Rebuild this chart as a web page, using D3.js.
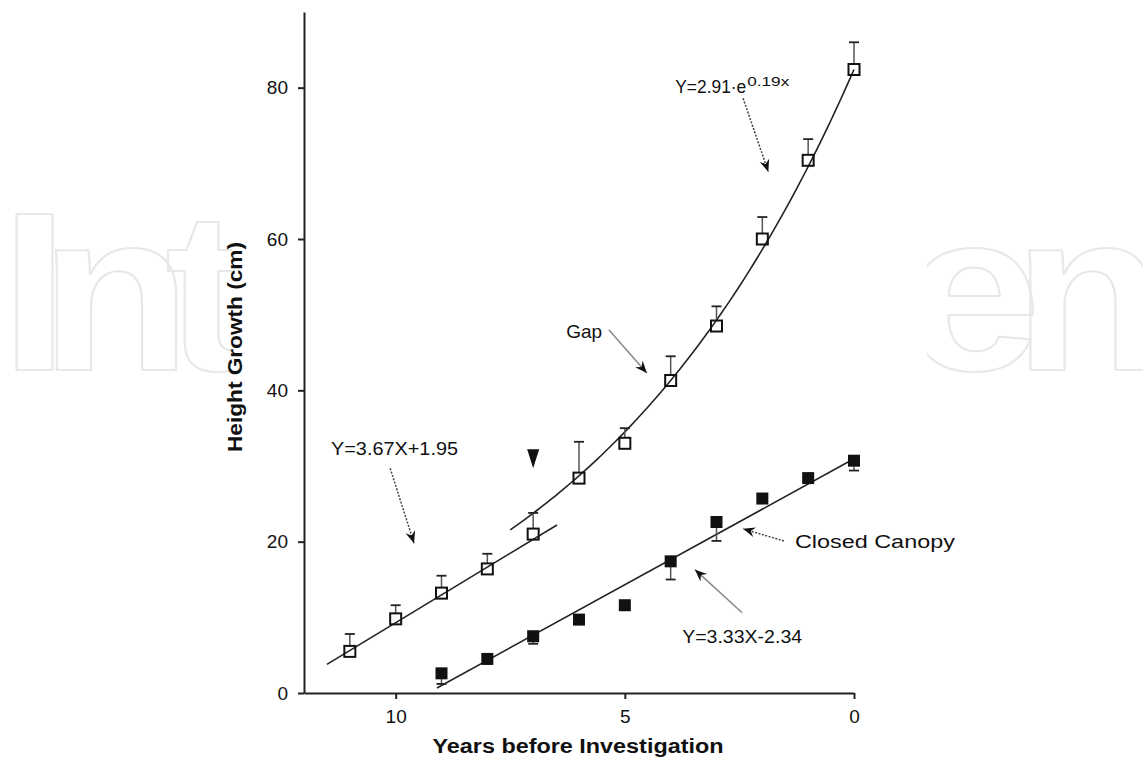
<!DOCTYPE html>
<html>
<head>
<meta charset="utf-8">
<script src="https://cdn.jsdelivr.net/npm/d3@7"></script>
<style>
  body { margin: 0; background: #fff; }
  text { font-family: "Liberation Sans", Arial, sans-serif; }
</style>
</head>
<body>
<svg id="chart" width="1143" height="759"></svg>
<script>
// ---- data ----
const yearsGap = [11, 10, 9, 8, 7, 6, 5, 4, 3, 2, 1, 0];
const gapHeight = [5.5, 9.8, 13.2, 16.4, 21.0, 28.4, 33.0, 41.3, 48.5, 60.0, 70.4, 82.4];
const gapErr = [2.3, 1.8, 2.3, 2.0, 2.8, 4.8, 2.0, 3.2, 2.6, 2.9, 2.8, 3.6];

const yearsClosed = [9, 8, 7, 6, 5, 4, 3, 2, 1, 0];
const closedHeight = [2.6, 4.5, 7.5, 9.7, 11.6, 17.4, 22.6, 25.7, 28.4, 30.7];
const closedErr = [1.4, 0, 1.0, 0.5, 0, 2.4, 2.5, 0, 0, 1.3];

const xTicks = [10, 5, 0];
const yTicks = [0, 20, 40, 60, 80];

// fitted curves (X counted forward in years)
const gapLinear = { slope: 3.67, intercept: 1.95, origin: 12, from: 11.5, to: 6.48 };
const closedLinear = { slope: 3.33, intercept: -2.34, origin: 10, from: 9.1, to: -0.05 };
const gapExp = { offset: -5, amp: 87.4, rate: 0.1588, from: 7.5, to: 0 };

// ---- layout ----
const svg = d3.select("#chart");
const W = 1143, H = 759;

const x = d3.scaleLinear().domain([12, 0]).range([304, 854]);
const y = d3.scaleLinear().domain([0, 90]).range([693, 12]);

// faint publisher watermark behind the plot (only its ends show past the white panel)
const wm = svg.append("g").attr("fill", "none").attr("stroke", "#e8e8e8")
  .attr("stroke-width", 2).attr("stroke-linejoin", "round")
  .style("font-family", "'Open Sans', sans-serif").style("font-weight", 700)
  .style("font-size", "226px");
wm.append("text").attr("transform", "translate(0,370) scale(1.1,1)")
  .attr("x", "0 36 150").text("Int");
wm.append("text").attr("transform", "translate(903,370) scale(1.1,1)")
  .attr("x", "0 100").attr("letter-spacing", -28).text("en");
svg.append("rect").attr("x", 232).attr("y", 0).attr("width", 927 - 232).attr("height", H).attr("fill", "#fff");

// arrow heads
const defs = svg.append("defs");
defs.append("marker").attr("id", "head")
  .attr("viewBox", "-12 -6 14 12").attr("refX", 0).attr("refY", 0)
  .attr("markerWidth", 14).attr("markerHeight", 12)
  .attr("markerUnits", "userSpaceOnUse").attr("orient", "auto")
  .append("path").attr("d", "M0,0 L-12,-5 L-8,0 L-12,5 Z").attr("fill", "#111");

// ---- axes ----
const yAxis = svg.append("g").attr("transform", `translate(${x(12)},0)`)
  .call(d3.axisLeft(y).tickValues(yTicks).tickSize(6).tickSizeOuter(0).tickPadding(10));
const xAxis = svg.append("g").attr("transform", `translate(0,${y(0)})`)
  .call(d3.axisBottom(x).tickValues(xTicks).tickSize(6).tickSizeOuter(0).tickPadding(11));
[yAxis, xAxis].forEach(g => {
  g.select(".domain").attr("stroke", "#222").attr("stroke-width", 2);
  g.selectAll(".tick line").attr("stroke", "#222").attr("stroke-width", 2);
  g.selectAll(".tick text").attr("fill", "#111").style("font-size", "19px")
    .style("font-family", "'Liberation Sans', Arial, sans-serif");
});

svg.append("text")
  .attr("x", 578).attr("y", 753).attr("text-anchor", "middle")
  .attr("textLength", 291).attr("lengthAdjust", "spacingAndGlyphs")
  .style("font-size", "20px").style("font-weight", "bold").attr("fill", "#111")
  .text("Years before Investigation");

svg.append("text")
  .attr("transform", "translate(242,347) rotate(-90)").attr("text-anchor", "middle")
  .attr("textLength", 210).attr("lengthAdjust", "spacingAndGlyphs")
  .style("font-size", "20px").style("font-weight", "bold").attr("fill", "#111")
  .text("Height Growth (cm)");

// ---- fitted lines ----
const line = d3.line().x(d => x(d[0])).y(d => y(d[1]));
const plot = svg.append("g");

const linPts = f => [f.from, f.to].map(v => [v, f.slope * (f.origin - v) + f.intercept]);
plot.append("path").attr("d", line(linPts(gapLinear)))
  .attr("fill", "none").attr("stroke", "#222").attr("stroke-width", 1.6);
plot.append("path").attr("d", line(linPts(closedLinear)))
  .attr("fill", "none").attr("stroke", "#222").attr("stroke-width", 1.6);

const expPts = d3.range(gapExp.from, gapExp.to - 0.001, -0.1)
  .map(v => [v, gapExp.offset + gapExp.amp * Math.exp(-gapExp.rate * v)]);
plot.append("path").attr("d", line.curve(d3.curveMonotoneX)(expPts))
  .attr("fill", "none").attr("stroke", "#222").attr("stroke-width", 1.6);

// ---- error bars ----
const half = 5.5, cap = 5;
const gapData = yearsGap.map((t, i) => ({ t, v: gapHeight[i], e: gapErr[i] }));
const closedData = yearsClosed.map((t, i) => ({ t, v: closedHeight[i], e: closedErr[i] }));

const eb = plot.append("g");
gapData.forEach(d => {
  const top = y(d.v + d.e), cy = y(d.v);
  if (cy - top <= half) return;
  eb.append("line").attr("x1", x(d.t)).attr("x2", x(d.t)).attr("y1", cy - half).attr("y2", top)
    .attr("stroke", "#555").attr("stroke-width", 1.5);
  eb.append("line").attr("x1", x(d.t) - cap).attr("x2", x(d.t) + cap).attr("y1", top).attr("y2", top)
    .attr("stroke", "#222").attr("stroke-width", 1.8);
});
closedData.forEach(d => {
  const bot = y(d.v - d.e), cy = y(d.v);
  if (bot - cy <= half) return;
  eb.append("line").attr("x1", x(d.t)).attr("x2", x(d.t)).attr("y1", cy + half).attr("y2", bot)
    .attr("stroke", "#555").attr("stroke-width", 1.5);
  eb.append("line").attr("x1", x(d.t) - cap).attr("x2", x(d.t) + cap).attr("y1", bot).attr("y2", bot)
    .attr("stroke", "#222").attr("stroke-width", 1.8);
});

// ---- markers ----
plot.append("g").selectAll("rect").data(gapData).join("rect")
  .attr("x", d => x(d.t) - half).attr("y", d => y(d.v) - half)
  .attr("width", half * 2).attr("height", half * 2)
  .attr("fill", "none").attr("stroke", "#111").attr("stroke-width", 2);

plot.append("g").selectAll("rect").data(closedData).join("rect")
  .attr("x", d => x(d.t) - 6).attr("y", d => y(d.v) - 6)
  .attr("width", 12).attr("height", 12).attr("fill", "#111");

// gap-creation marker
const tri = { t: 7, top: 32.2 };
plot.append("path")
  .attr("d", `M${x(tri.t) - 6},${y(tri.top)} L${x(tri.t) + 6},${y(tri.top)} L${x(tri.t)},${y(tri.top) + 19} Z`)
  .attr("fill", "#111");

// ---- annotations (positions in data units) ----
const notes = [
  { text: "Gap", t: 6.28, v: 46.9, size: 19, len: null },
  { text: "Y=3.67X+1.95", t: 11.41, v: 31.45, size: 18, len: 127 },
  { text: "Closed Canopy", t: 1.29, v: 19.2, size: 18, len: 160 },
  { text: "Y=3.33X-2.34", t: 3.75, v: 6.6, size: 18, len: 120 },
  { text: "Y=2.91\u00B7e", t: 3.9, v: 79.3, size: 18, len: 71 }
];
const ann = svg.append("g").attr("fill", "#111");
notes.forEach(n => {
  const tx = ann.append("text").attr("x", x(n.t)).attr("y", y(n.v))
    .style("font-size", n.size + "px").text(n.text);
  if (n.len) tx.attr("textLength", n.len).attr("lengthAdjust", "spacingAndGlyphs");
});
// exponent of the gap equation
ann.append("text").attr("x", x(3.9) + 72).attr("y", y(79.3) - 7)
  .style("font-size", "13px").attr("textLength", 42).attr("lengthAdjust", "spacingAndGlyphs")
  .text("0.19x");

const arrows = [
  { from: [2.42, 78.6], to: [1.87, 68.9], dotted: true },
  { from: [5.35, 48.0], to: [4.52, 42.3], dotted: false },
  { from: [10.12, 29.7], to: [9.6, 19.8], dotted: true },
  { from: [1.53, 20.1], to: [2.42, 21.7], dotted: true },
  { from: [2.44, 10.6], to: [3.47, 16.3], dotted: false }
];
arrows.forEach(a => {
  svg.append("line")
    .attr("x1", x(a.from[0])).attr("y1", y(a.from[1]))
    .attr("x2", x(a.to[0])).attr("y2", y(a.to[1]))
    .attr("stroke", a.dotted ? "#444" : "#888").attr("stroke-width", 1.5)
    .attr("stroke-dasharray", a.dotted ? "2,1.5" : null)
    .attr("marker-end", "url(#head)");
});
</script>
</body>
</html>
